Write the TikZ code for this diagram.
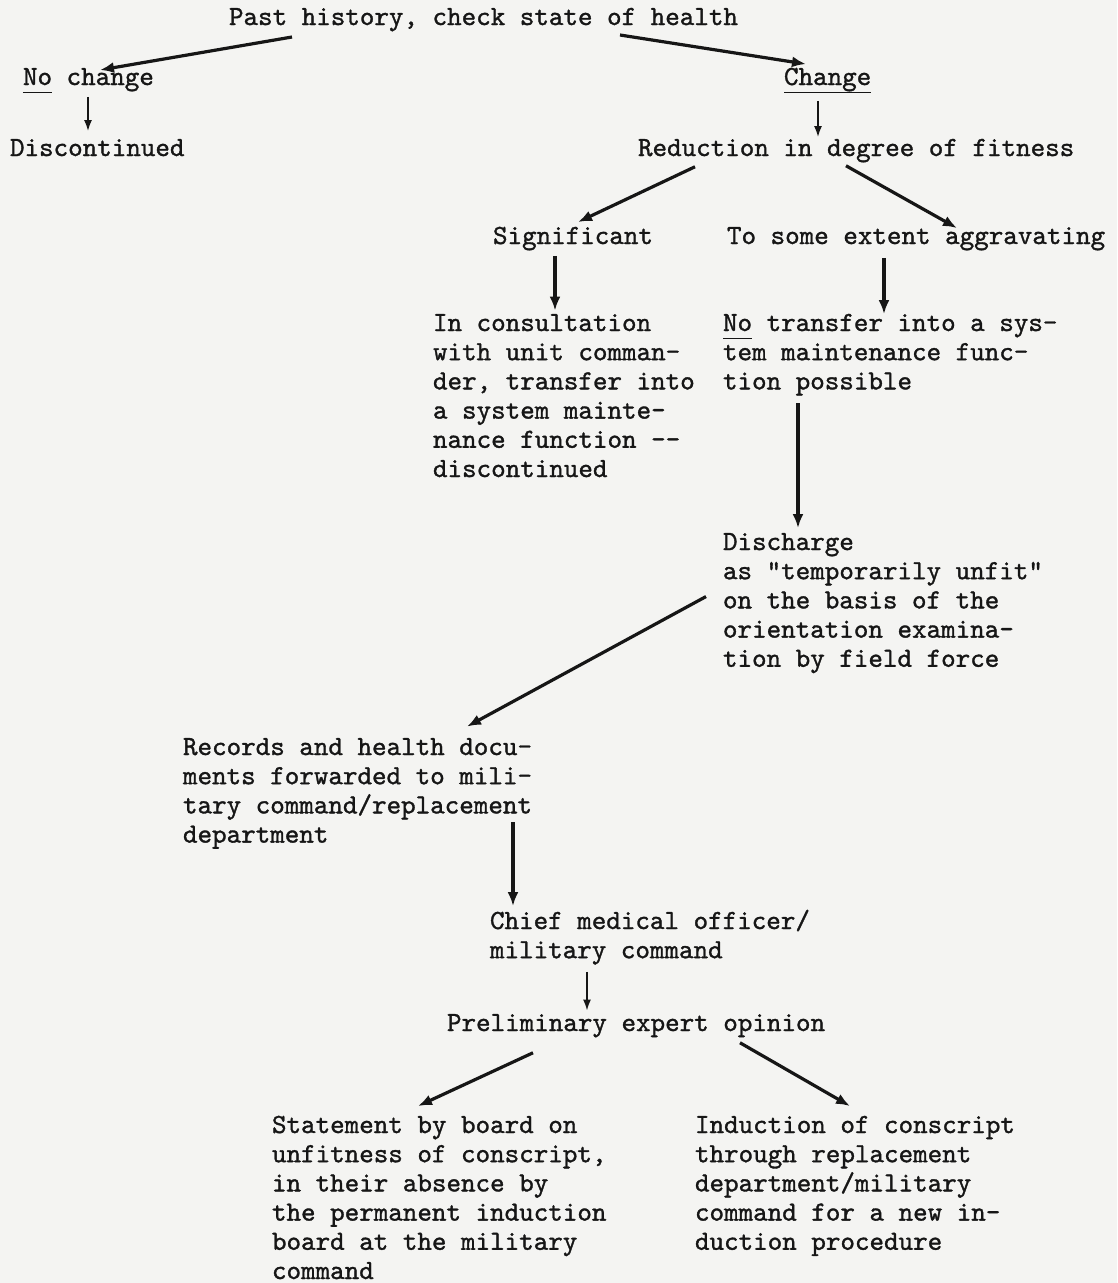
\documentclass[tikz,border=0pt]{standalone}
\usepackage{fontspec}
\setmonofont{lmmono10-regular}[Extension=.otf,FakeBold=1.2]
\usetikzlibrary{arrows.meta}
\definecolor{ink}{RGB}{22,22,22}
\definecolor{paper}{RGB}{244,244,242}
\newcommand{\tul}[1]{\setbox0\hbox{#1}\rlap{\rule[-8pt]{\wd0}{1.4pt}}#1}
\tikzset{
  txt/.style={anchor=north west, inner sep=0pt, outer sep=0pt, align=left,
    font=\ttfamily\fontsize{27.7}{29.2}\selectfont, text=ink},
  arr/.style={draw=ink, line width=3.2pt, -{Latex[length=14pt,width=11pt]}},
  tarr/.style={draw=ink, line width=1.7pt, -{Latex[length=11pt,width=8pt]}},
}
\begin{document}
\begin{tikzpicture}[x=1pt,y=-1pt]
\fill[paper] (0,0) rectangle (1117,1283);
\useasboundingbox (0,0) rectangle (1117,1283);

\node[txt] (past) at (229,4.56) {\strut Past history, check state of health\strut};
\node[txt] (noch) at (23,64.56) {\strut\tul{No} change\strut};
\node[txt] (chg) at (784,64.56) {\strut\tul{Change}\strut};
\node[txt] (disc) at (10,135.56) {\strut Discontinued\strut};
\node[txt] (red) at (638,135.56) {\strut Reduction in degree of fitness\strut};
\node[txt] (sig) at (493,223.56) {\strut Significant\strut};
\node[txt] (agg) at (727,223.56) {\strut To some extent aggravating\strut};
\node[txt] (cons) at (433,310.56) {\strut In consultation\\with unit comman-\\der, transfer into\\a system mainte-\\nance function -{}-\\discontinued\strut};
\node[txt] (notr) at (723,310.56) {\strut\tul{No} transfer into a sys-\\tem maintenance func-\\tion possible\strut};
\node[txt] (dis) at (723,529.56) {\strut Discharge\\as "temporarily unfit"\\on the basis of the\\orientation examina-\\tion by field force\strut};
\node[txt] (rec) at (183,734.56) {\strut Records and health docu-\\ments forwarded to mili-\\tary command/replacement\\department\strut};
\node[txt] (chief) at (490,908.56) {\strut Chief medical officer/\\military command\strut};
\node[txt] (prel) at (447,1010.56) {\strut Preliminary expert opinion\strut};
\node[txt] (stat) at (272,1112.56) {\strut Statement by board on\\unfitness of conscript,\\in their absence by\\the permanent induction\\board at the military\\command\strut};
\node[txt] (ind) at (695,1112.56) {\strut Induction of conscript\\through replacement\\department/military\\command for a new in-\\duction procedure\strut};

\draw[arr] ([shift={(63,3.24)}]past.south west) -- ([shift={(77,5.44)}]noch.north west);
\draw[arr] ([shift={(391,1.24)}]past.south west) -- ([shift={(22,-0.5)}]chg.north west);
\draw[tarr] ([shift={(65,3)}]noch.south west) -- ([shift={(78,-4.5)}]disc.north west);
\draw[tarr] ([shift={(34,7)}]chg.south west) -- ([shift={(180,1.5)}]red.north west);
\draw[arr] ([shift={(57,2)}]red.south west) -- ([shift={(85,-1.5)}]sig.north west);
\draw[arr] ([shift={(208,1)}]red.south west) -- ([shift={(230,4.5)}]agg.north west);
\draw[arr] ([shift={(62,3)}]sig.south west) -- ([shift={(122,0)}]cons.north west);
\draw[arr] ([shift={(157,5)}]agg.south west) -- ([shift={(161,3.5)}]notr.north west);
\draw[arr] ([shift={(75,5)}]notr.south west) -- ([shift={(75,-1.5)}]dis.north west);
\draw[arr] ([shift={(-17,67)}]dis.north west) -- ([shift={(284,-8)}]rec.north west);
\draw[arr] ([shift={(330,87.44)}]rec.north west) -- ([shift={(23,-2.5)}]chief.north west);
\draw[tarr] ([shift={(97,5)}]chief.south west) -- ([shift={(140,0)}]prel.north west);
\draw[arr] ([shift={(86,13)}]prel.south west) -- ([shift={(146,-6.5)}]stat.north west);
\draw[arr] ([shift={(293,3)}]prel.south west) -- ([shift={(155,-6.5)}]ind.north west);
\end{tikzpicture}
\end{document}
